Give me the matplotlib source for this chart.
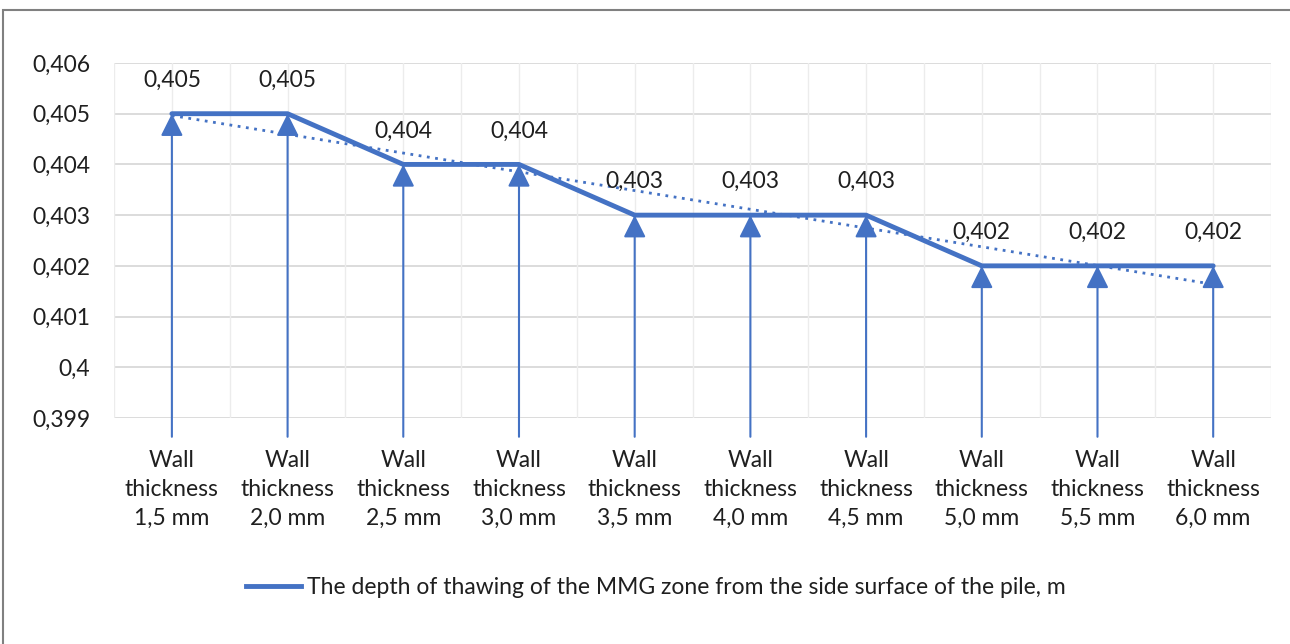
import numpy as np
import matplotlib
matplotlib.use('Agg')
from matplotlib import pyplot as plt
from matplotlib.patches import Rectangle
from matplotlib.lines import Line2D

plt.rcParams['font.family'] = ['Lato', 'DejaVu Sans']

categories = ['Wall\nthickness\n1,5 mm', 'Wall\nthickness\n2,0 mm', 'Wall\nthickness\n2,5 mm',
              'Wall\nthickness\n3,0 mm', 'Wall\nthickness\n3,5 mm', 'Wall\nthickness\n4,0 mm',
              'Wall\nthickness\n4,5 mm', 'Wall\nthickness\n5,0 mm', 'Wall\nthickness\n5,5 mm',
              'Wall\nthickness\n6,0 mm']
depth = [0.405, 0.405, 0.404, 0.404, 0.403, 0.403, 0.403, 0.402, 0.402, 0.402]
y_ticks = [0.399, 0.400, 0.401, 0.402, 0.403, 0.404, 0.405, 0.406]
y_labels = ['0,399', '0,4', '0,401', '0,402', '0,403', '0,404', '0,405', '0,406']
series_name = 'The depth of thawing of the MMG zone from the side surface of the pile, m'

blue = '#4472C4'
txt = '#1f1f1f'
fs = 16.5

fig = plt.figure(figsize=(12.9, 6.44), dpi=100)
ax = fig.add_axes([0.0884, 0.3509, 0.8969, 0.5513])

x = np.arange(len(depth))

# grid
for yv in y_ticks:
    ax.axhline(yv, color='#d9d9d9', lw=1.3, zorder=0)
for xv in np.arange(-0.5, len(depth), 0.5):
    ax.axvline(xv, color='#ececec', lw=1.0, zorder=0)

# linear trend
k, b = np.polyfit(x, depth, 1)
ax.plot(x, k * x + b, color=blue, lw=2.0, ls=(0, (1, 2)), zorder=3)

# main line
line, = ax.plot(x, depth, color=blue, lw=3.5, solid_capstyle='round', zorder=4)

# arrows from below the axis up to each point
for xi, v in zip(x, depth):
    ax.annotate('', xy=(xi, v), xytext=(xi, 0.39863),
                arrowprops=dict(arrowstyle='-|>', color=blue, lw=1.5,
                                mutation_scale=34, shrinkA=0, shrinkB=0),
                annotation_clip=False, zorder=5)
    ax.annotate(f'{v:.3f}'.replace('.', ','), xy=(xi, v), xytext=(0, 24),
                textcoords='offset points', ha='center', va='center',
                fontsize=fs, color=txt, zorder=6)

ax.set_xlim(-0.5, len(depth) - 0.5)
ax.set_ylim(0.399, 0.406)
ax.set_yticks(y_ticks)
ax.set_yticklabels(y_labels, fontsize=fs, color=txt)
ax.set_xticks(x)
ax.set_xticklabels(categories, fontsize=fs, color=txt, linespacing=1.46)
ax.tick_params(axis='both', length=0)
ax.tick_params(axis='y', pad=17)
ax.tick_params(axis='x', pad=23)
for s in ax.spines.values():
    s.set_visible(False)

fig.legend(handles=[Line2D([], [], color=blue, lw=3.5)], labels=[series_name],
           loc='center', bbox_to_anchor=(656 / 1290, 1 - 588 / 644), frameon=False,
           fontsize=fs, handlelength=2.4, handletextpad=0.25,
           labelcolor=txt)

# outer border
fig.patches.append(Rectangle((3 / 1290, -0.05), 1.1, 1 - 10 / 644 + 0.05,
                             transform=fig.transFigure, fill=False,
                             edgecolor='#808080', lw=1.5))

fig.savefig('out.png', dpi=100)
